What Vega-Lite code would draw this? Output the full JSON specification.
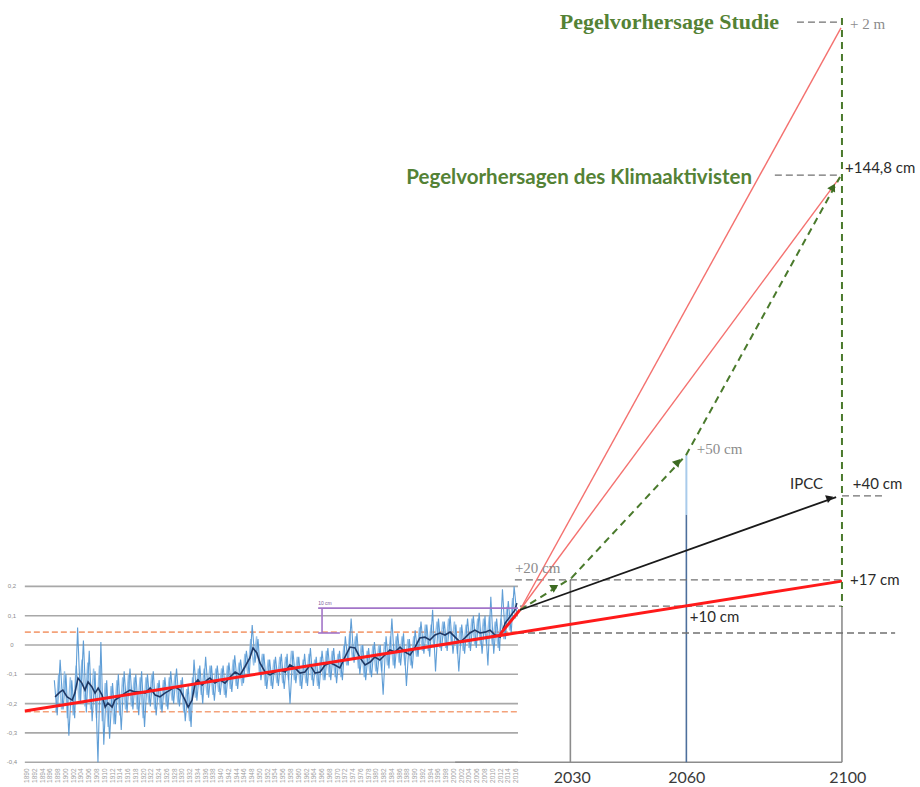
{
"$schema":"https://vega.github.io/schema/vega-lite/v6.json",
"width":920,"height":787,
"autosize":{"type":"fit","contains":"padding"},
"padding":0,
"background":"white",
"config":{"view":{"stroke":null}},
"datasets":{
"segs":[
{"g":"grid","t":1889.4,"v":0.2,"t2":2016.5,"v2":0.2},
{"g":"grid","t":1889.4,"v":0.1,"t2":2016.5,"v2":0.1},
{"g":"grid","t":1889.4,"v":0.0,"t2":2016.5,"v2":0.0},
{"g":"grid","t":1889.4,"v":-0.1,"t2":2016.5,"v2":-0.1},
{"g":"grid","t":1889.4,"v":-0.2,"t2":2016.5,"v2":-0.2},
{"g":"grid","t":1889.4,"v":-0.3,"t2":2016.5,"v2":-0.3},
{"g":"grid","t":1889.4,"v":-0.4,"t2":2016.5,"v2":-0.4},
{"g":"orange","t":1889.4,"v":0.044,"t2":2016.5,"v2":0.044},
{"g":"orange","t":1889.4,"v":-0.228,"t2":2016.5,"v2":-0.228},
{"g":"purple","t":1965.0,"v":0.126,"t2":2016.5,"v2":0.126},
{"g":"purple","t":1965.0,"v":0.041,"t2":1970.6,"v2":0.041},
{"g":"purple","t":1966.0,"v":0.041,"t2":1966.0,"v2":0.126},
{"g":"trend","t":1889.4,"v":-0.225,"t2":2100,"v2":0.218},
{"g":"trend","t":2011.9,"v":0.037,"t2":2017.0,"v2":0.12},
{"g":"gsolid","t":2030,"v":0.222,"t2":2030,"v2":-0.4},
{"g":"gsolid","t":2100,"v":0.13,"t2":2100,"v2":-0.4},
{"g":"gsolid","t":2000.3,"v":-0.4,"t2":2100,"v2":-0.4},
{"g":"lblue","t":2059.9,"v":0.648,"t2":2059.9,"v2":0.444},
{"g":"dblue","t":2059.9,"v":0.444,"t2":2059.9,"v2":-0.4},
{"g":"gdash","t":2016.25,"v":0.041,"t2":2113.7,"v2":0.041},
{"g":"gdash","t":2015.7,"v":0.222,"t2":2100,"v2":0.222},
{"g":"gdash","t":2017.0,"v":0.133,"t2":2100,"v2":0.133},
{"g":"gdash","t":2088.4,"v":2.126,"t2":2100,"v2":2.126},
{"g":"gdash","t":2082.7,"v":1.604,"t2":2100,"v2":1.604},
{"g":"gdash","t":2100,"v":0.509,"t2":2111.1,"v2":0.509},
{"g":"redthin","t":2017.02,"v":0.1195,"t2":2099.75,"v2":2.106},
{"g":"redthin","t":2017.02,"v":0.1195,"t2":2099.5,"v2":1.597},
{"g":"green","t":2017.02,"v":0.1195,"t2":2030.3,"v2":0.229},
{"g":"green","t":2030.3,"v":0.229,"t2":2059.8,"v2":0.648},
{"g":"green","t":2059.8,"v":0.648,"t2":2099.5,"v2":1.597},
{"g":"green","t":2100,"v":2.14,"t2":2100,"v2":0.13},
{"g":"black","t":2017.02,"v":0.1195,"t2":2098.5,"v2":0.505}
],
"arrows":[
{"id":"b","t":2096.9,"v":0.502},
{"id":"g1","t":2026.0,"v":0.198},
{"id":"g2","t":2057.7,"v":0.625},
{"id":"g3","t":2097.7,"v":1.563}
],
"ts":[
{"t":1897.0,"v":-0.12},{"t":1897.75,"v":-0.24},{"t":1898.5,"v":-0.05},{"t":1899.25,"v":-0.22},
{"t":1900.0,"v":-0.10},{"t":1900.75,"v":-0.31},{"t":1901.5,"v":-0.12},{"t":1902.25,"v":-0.25},
{"t":1903.0,"v":0.06},{"t":1903.75,"v":-0.20},{"t":1904.5,"v":0.015},{"t":1905.25,"v":-0.23},
{"t":1906.0,"v":-0.02},{"t":1906.75,"v":-0.26},{"t":1907.5,"v":-0.09},{"t":1908.25,"v":-0.40},
{"t":1909.0,"v":0.01},{"t":1909.75,"v":-0.34},{"t":1910.5,"v":-0.12},{"t":1911.25,"v":-0.32},
{"t":1912.0,"v":-0.13},{"t":1912.75,"v":-0.27},{"t":1913.5,"v":-0.10},{"t":1914.25,"v":-0.29},
{"t":1915.0,"v":-0.09},{"t":1915.75,"v":-0.23},{"t":1916.5,"v":-0.08},{"t":1917.25,"v":-0.22},
{"t":1918.0,"v":-0.10},{"t":1918.75,"v":-0.24},{"t":1919.5,"v":-0.09},{"t":1920.25,"v":-0.28},
{"t":1921.0,"v":-0.10},{"t":1921.75,"v":-0.21},{"t":1922.5,"v":-0.09},{"t":1923.25,"v":-0.24},
{"t":1924.0,"v":-0.12},{"t":1924.75,"v":-0.23},{"t":1925.5,"v":-0.11},{"t":1926.25,"v":-0.22},
{"t":1927.0,"v":-0.09},{"t":1927.75,"v":-0.20},{"t":1928.5,"v":-0.08},{"t":1929.25,"v":-0.21},
{"t":1930.0,"v":-0.11},{"t":1930.75,"v":-0.26},{"t":1931.5,"v":-0.14},{"t":1932.25,"v":-0.28},
{"t":1933.0,"v":-0.05},{"t":1933.75,"v":-0.19},{"t":1934.5,"v":-0.07},{"t":1935.25,"v":-0.20},
{"t":1936.0,"v":-0.04},{"t":1936.75,"v":-0.18},{"t":1937.5,"v":-0.07},{"t":1938.25,"v":-0.19},
{"t":1939.0,"v":-0.07},{"t":1939.75,"v":-0.17},{"t":1940.5,"v":-0.07},{"t":1941.25,"v":-0.18},
{"t":1942.0,"v":-0.06},{"t":1942.75,"v":-0.16},{"t":1943.5,"v":-0.035},{"t":1944.25,"v":-0.15},
{"t":1945.0,"v":-0.05},{"t":1945.75,"v":-0.13},{"t":1946.5,"v":-0.02},{"t":1947.25,"v":-0.10},
{"t":1948.0,"v":0.068},{"t":1948.75,"v":-0.06},{"t":1949.5,"v":0.02},{"t":1950.25,"v":-0.12},
{"t":1951.0,"v":-0.03},{"t":1951.75,"v":-0.15},{"t":1952.5,"v":-0.05},{"t":1953.25,"v":-0.15},
{"t":1954.0,"v":-0.04},{"t":1954.75,"v":-0.14},{"t":1955.5,"v":-0.03},{"t":1956.25,"v":-0.15},
{"t":1957.0,"v":-0.03},{"t":1957.75,"v":-0.20},{"t":1958.5,"v":-0.02},{"t":1959.25,"v":-0.13},
{"t":1960.0,"v":-0.04},{"t":1960.75,"v":-0.15},{"t":1961.5,"v":-0.03},{"t":1962.25,"v":-0.14},
{"t":1963.0,"v":-0.01},{"t":1963.75,"v":-0.14},{"t":1964.5,"v":-0.04},{"t":1965.25,"v":-0.15},
{"t":1966.0,"v":-0.02},{"t":1966.75,"v":-0.12},{"t":1967.5,"v":-0.01},{"t":1968.25,"v":-0.12},
{"t":1969.0,"v":-0.01},{"t":1969.75,"v":-0.13},{"t":1970.5,"v":-0.02},{"t":1971.25,"v":-0.12},
{"t":1972.0,"v":0.03},{"t":1972.75,"v":-0.07},{"t":1973.5,"v":0.09},{"t":1974.25,"v":-0.06},
{"t":1975.0,"v":0.04},{"t":1975.75,"v":-0.10},{"t":1976.5,"v":0.00},{"t":1977.25,"v":-0.12},
{"t":1978.0,"v":-0.01},{"t":1978.75,"v":-0.11},{"t":1979.5,"v":0.01},{"t":1980.25,"v":-0.10},
{"t":1981.0,"v":0.00},{"t":1981.75,"v":-0.17},{"t":1982.5,"v":0.03},{"t":1983.25,"v":-0.08},
{"t":1984.0,"v":0.09},{"t":1984.75,"v":-0.08},{"t":1985.5,"v":0.04},{"t":1986.25,"v":-0.07},
{"t":1987.0,"v":0.04},{"t":1987.75,"v":-0.14},{"t":1988.5,"v":0.02},{"t":1989.25,"v":-0.08},
{"t":1990.0,"v":0.05},{"t":1990.75,"v":-0.04},{"t":1991.5,"v":0.08},{"t":1992.25,"v":-0.03},
{"t":1993.0,"v":0.07},{"t":1993.75,"v":-0.04},{"t":1994.5,"v":0.12},{"t":1995.25,"v":-0.09},
{"t":1996.0,"v":0.09},{"t":1996.75,"v":-0.02},{"t":1997.5,"v":0.08},{"t":1998.25,"v":-0.02},
{"t":1999.0,"v":0.10},{"t":1999.75,"v":-0.03},{"t":2000.5,"v":0.07},{"t":2001.25,"v":-0.09},
{"t":2002.0,"v":0.07},{"t":2002.75,"v":-0.03},{"t":2003.5,"v":0.09},{"t":2004.25,"v":-0.02},
{"t":2005.0,"v":0.10},{"t":2005.75,"v":-0.01},{"t":2006.5,"v":0.11},{"t":2007.25,"v":-0.03},
{"t":2008.0,"v":0.10},{"t":2008.75,"v":-0.07},{"t":2009.5,"v":0.165},{"t":2010.25,"v":-0.03},
{"t":2011.0,"v":0.09},{"t":2011.75,"v":-0.02},{"t":2012.5,"v":0.19},{"t":2013.25,"v":0.02},
{"t":2014.0,"v":0.15},{"t":2014.75,"v":0.04},{"t":2015.5,"v":0.20},{"t":2016.25,"v":0.10}
],
"ts2":[
{"t":1897.375,"v":-0.23},{"t":1898.125,"v":-0.10},{"t":1898.875,"v":-0.22},{"t":1899.625,"v":-0.09},
{"t":1900.375,"v":-0.25},{"t":1901.125,"v":-0.11},{"t":1901.875,"v":-0.24},{"t":1902.625,"v":-0.07},
{"t":1903.375,"v":-0.19},{"t":1904.125,"v":-0.05},{"t":1904.875,"v":-0.21},{"t":1905.625,"v":-0.06},
{"t":1906.375,"v":-0.22},{"t":1907.125,"v":-0.08},{"t":1907.875,"v":-0.25},{"t":1908.625,"v":-0.07},
{"t":1909.375,"v":-0.26},{"t":1910.125,"v":-0.13},{"t":1910.875,"v":-0.28},{"t":1911.625,"v":-0.14},
{"t":1912.375,"v":-0.27},{"t":1913.125,"v":-0.12},{"t":1913.875,"v":-0.24},{"t":1914.625,"v":-0.11},
{"t":1915.375,"v":-0.22},{"t":1916.125,"v":-0.10},{"t":1916.875,"v":-0.21},{"t":1917.625,"v":-0.11},
{"t":1918.375,"v":-0.22},{"t":1919.125,"v":-0.11},{"t":1919.875,"v":-0.25},{"t":1920.625,"v":-0.11},
{"t":1921.375,"v":-0.20},{"t":1922.125,"v":-0.10},{"t":1922.875,"v":-0.22},{"t":1923.625,"v":-0.13},
{"t":1924.375,"v":-0.22},{"t":1925.125,"v":-0.12},{"t":1925.875,"v":-0.21},{"t":1926.625,"v":-0.11},
{"t":1927.375,"v":-0.19},{"t":1928.125,"v":-0.10},{"t":1928.875,"v":-0.20},{"t":1929.625,"v":-0.12},
{"t":1930.375,"v":-0.23},{"t":1931.125,"v":-0.15},{"t":1931.875,"v":-0.26},{"t":1932.625,"v":-0.11},
{"t":1933.375,"v":-0.18},{"t":1934.125,"v":-0.08},{"t":1934.875,"v":-0.17},{"t":1935.625,"v":-0.08},
{"t":1936.375,"v":-0.17},{"t":1937.125,"v":-0.07},{"t":1937.875,"v":-0.17},{"t":1938.625,"v":-0.08},
{"t":1939.375,"v":-0.16},{"t":1940.125,"v":-0.08},{"t":1940.875,"v":-0.17},{"t":1941.625,"v":-0.07},
{"t":1942.375,"v":-0.15},{"t":1943.125,"v":-0.05},{"t":1943.875,"v":-0.14},{"t":1944.625,"v":-0.06},
{"t":1945.375,"v":-0.14},{"t":1946.125,"v":-0.03},{"t":1946.875,"v":-0.10},{"t":1947.625,"v":0.02},
{"t":1948.375,"v":-0.07},{"t":1949.125,"v":0.03},{"t":1949.875,"v":-0.10},{"t":1950.625,"v":-0.03},
{"t":1951.375,"v":-0.14},{"t":1952.125,"v":-0.05},{"t":1952.875,"v":-0.14},{"t":1953.625,"v":-0.05},
{"t":1954.375,"v":-0.13},{"t":1955.125,"v":-0.04},{"t":1955.875,"v":-0.13},{"t":1956.625,"v":-0.04},
{"t":1957.375,"v":-0.12},{"t":1958.125,"v":-0.02},{"t":1958.875,"v":-0.12},{"t":1959.625,"v":-0.04},
{"t":1960.375,"v":-0.14},{"t":1961.125,"v":-0.05},{"t":1961.875,"v":-0.13},{"t":1962.625,"v":-0.03},
{"t":1963.375,"v":-0.12},{"t":1964.125,"v":-0.05},{"t":1964.875,"v":-0.14},{"t":1965.625,"v":-0.04},
{"t":1966.375,"v":-0.12},{"t":1967.125,"v":-0.02},{"t":1967.875,"v":-0.11},{"t":1968.625,"v":-0.02},
{"t":1969.375,"v":-0.11},{"t":1970.125,"v":-0.03},{"t":1970.875,"v":-0.11},{"t":1971.625,"v":0.00},
{"t":1972.375,"v":-0.07},{"t":1973.125,"v":0.04},{"t":1973.875,"v":-0.05},{"t":1974.625,"v":0.03},
{"t":1975.375,"v":-0.08},{"t":1976.125,"v":0.00},{"t":1976.875,"v":-0.11},{"t":1977.625,"v":-0.02},
{"t":1978.375,"v":-0.10},{"t":1979.125,"v":0.00},{"t":1979.875,"v":-0.09},{"t":1980.625,"v":0.00},
{"t":1981.375,"v":-0.09},{"t":1982.125,"v":0.01},{"t":1982.875,"v":-0.07},{"t":1983.625,"v":0.03},
{"t":1984.375,"v":-0.07},{"t":1985.125,"v":0.03},{"t":1985.875,"v":-0.06},{"t":1986.625,"v":0.03},
{"t":1987.375,"v":-0.07},{"t":1988.125,"v":0.02},{"t":1988.875,"v":-0.07},{"t":1989.625,"v":0.03},
{"t":1990.375,"v":-0.04},{"t":1991.125,"v":0.06},{"t":1991.875,"v":-0.02},{"t":1992.625,"v":0.07},
{"t":1993.375,"v":-0.02},{"t":1994.125,"v":0.07},{"t":1994.875,"v":-0.01},{"t":1995.625,"v":0.08},
{"t":1996.375,"v":-0.01},{"t":1997.125,"v":0.08},{"t":1997.875,"v":-0.01},{"t":1998.625,"v":0.09},
{"t":1999.375,"v":0.00},{"t":2000.125,"v":0.08},{"t":2000.875,"v":-0.03},{"t":2001.625,"v":0.06},
{"t":2002.375,"v":-0.02},{"t":2003.125,"v":0.07},{"t":2003.875,"v":-0.01},{"t":2004.625,"v":0.09},
{"t":2005.375,"v":0.00},{"t":2006.125,"v":0.09},{"t":2006.875,"v":0.00},{"t":2007.625,"v":0.09},
{"t":2008.375,"v":0.00},{"t":2009.125,"v":0.10},{"t":2009.875,"v":0.00},{"t":2010.625,"v":0.08},
{"t":2011.375,"v":-0.01},{"t":2012.125,"v":0.09},{"t":2012.875,"v":0.02},{"t":2013.625,"v":0.13},
{"t":2014.375,"v":0.05},{"t":2015.125,"v":0.16},{"t":2015.875,"v":0.09}
],
"sm":[
{"t":1897.2,"v":-0.177},{"t":1898.5,"v":-0.160},{"t":1899.2,"v":-0.154},{"t":1900.3,"v":-0.177},
{"t":1901.6,"v":-0.188},{"t":1902.3,"v":-0.164},{"t":1903.1,"v":-0.113},{"t":1904.1,"v":-0.130},
{"t":1904.9,"v":-0.154},{"t":1905.7,"v":-0.126},{"t":1906.7,"v":-0.143},{"t":1907.5,"v":-0.164},
{"t":1908.3,"v":-0.147},{"t":1909.3,"v":-0.171},{"t":1910.1,"v":-0.212},{"t":1910.8,"v":-0.198},
{"t":1911.9,"v":-0.212},{"t":1912.6,"v":-0.188},{"t":1913.9,"v":-0.177},{"t":1915.2,"v":-0.164},
{"t":1916.5,"v":-0.154},{"t":1917.8,"v":-0.160},{"t":1919.1,"v":-0.160},{"t":1920.4,"v":-0.164},
{"t":1921.7,"v":-0.147},{"t":1923.0,"v":-0.171},{"t":1924.2,"v":-0.177},{"t":1925.5,"v":-0.164},
{"t":1926.8,"v":-0.154},{"t":1928.1,"v":-0.143},{"t":1929.4,"v":-0.154},{"t":1930.7,"v":-0.188},
{"t":1931.5,"v":-0.212},{"t":1932.5,"v":-0.188},{"t":1933.3,"v":-0.130},{"t":1934.0,"v":-0.119},
{"t":1935.1,"v":-0.137},{"t":1936.4,"v":-0.119},{"t":1937.1,"v":-0.113},{"t":1938.4,"v":-0.130},
{"t":1939.7,"v":-0.119},{"t":1941.0,"v":-0.130},{"t":1942.3,"v":-0.109},{"t":1943.6,"v":-0.092},
{"t":1944.9,"v":-0.102},{"t":1946.1,"v":-0.075},{"t":1947.4,"v":-0.044},{"t":1948.2,"v":-0.010},
{"t":1949.2,"v":-0.027},{"t":1950.0,"v":-0.061},{"t":1951.3,"v":-0.092},{"t":1952.6,"v":-0.102},
{"t":1953.9,"v":-0.092},{"t":1955.2,"v":-0.085},{"t":1956.5,"v":-0.092},{"t":1957.7,"v":-0.068},
{"t":1959.0,"v":-0.078},{"t":1960.3,"v":-0.096},{"t":1961.6,"v":-0.092},{"t":1962.9,"v":-0.068},
{"t":1964.2,"v":-0.096},{"t":1965.5,"v":-0.092},{"t":1966.8,"v":-0.068},{"t":1968.1,"v":-0.061},
{"t":1969.3,"v":-0.068},{"t":1970.6,"v":-0.078},{"t":1971.9,"v":-0.041},{"t":1973.2,"v":-0.007},
{"t":1974.5,"v":-0.010},{"t":1975.8,"v":-0.044},{"t":1977.1,"v":-0.068},{"t":1978.4,"v":-0.058},
{"t":1979.6,"v":-0.041},{"t":1980.9,"v":-0.051},{"t":1982.2,"v":-0.034},{"t":1983.5,"v":-0.017},
{"t":1984.8,"v":-0.024},{"t":1986.1,"v":-0.007},{"t":1987.4,"v":-0.024},{"t":1988.7,"v":-0.034},
{"t":1990.0,"v":-0.007},{"t":1991.2,"v":0.024},{"t":1992.5,"v":0.027},{"t":1993.8,"v":0.017},
{"t":1995.1,"v":0.034},{"t":1996.4,"v":0.041},{"t":1997.7,"v":0.034},{"t":1999.0,"v":0.044},
{"t":2000.3,"v":0.027},{"t":2001.6,"v":0.010},{"t":2002.8,"v":0.024},{"t":2004.1,"v":0.041},
{"t":2005.4,"v":0.051},{"t":2006.7,"v":0.041},{"t":2008.0,"v":0.044},{"t":2009.3,"v":0.051},
{"t":2010.6,"v":0.034},{"t":2011.9,"v":0.027},{"t":2013.2,"v":0.075},{"t":2014.4,"v":0.096},
{"t":2015.7,"v":0.119},{"t":2016.2,"v":0.143}
],
"labels":[
{"s":"t1","t":2083.8,"v":2.126,"label":"Pegelvorhersage Studie"},
{"s":"t2","t":2076.8,"v":1.594,"label":"Pegelvorhersagen des Klimaaktivisten"},
{"s":"serif","t":2102.1,"v":2.119,"label":"+ 2 m"},
{"s":"sans","t":2100.8,"v":1.628,"label":"+144,8 cm"},
{"s":"serif","t":2062.6,"v":0.669,"label":"+50 cm"},
{"s":"sans","t":2086.6,"v":0.549,"label":"IPCC"},
{"s":"sans","t":2102.8,"v":0.549,"label":"+40 cm"},
{"s":"serif","t":2015.7,"v":0.263,"label":"+20 cm"},
{"s":"sans","t":2102.1,"v":0.222,"label":"+17 cm"},
{"s":"sans","t":2060.8,"v":0.0956,"label":"+10 cm"},
{"s":"year","t":2030.5,"v":-0.454,"label":"2030"},
{"s":"year","t":2060,"v":-0.454,"label":"2060"},
{"s":"year","t":2101.5,"v":-0.454,"label":"2100"},
{"s":"tiny","t":1965.0,"v":0.143,"label":"10 cm"},
{"s":"ytick","t":1886.1,"v":0.2,"label":"0,2"},
{"s":"ytick","t":1886.1,"v":0.1,"label":"0,1"},
{"s":"ytick","t":1886.1,"v":0.0,"label":"0"},
{"s":"ytick","t":1886.1,"v":-0.1,"label":"-0,1"},
{"s":"ytick","t":1886.1,"v":-0.2,"label":"-0,2"},
{"s":"ytick","t":1886.1,"v":-0.3,"label":"-0,3"},
{"s":"ytick","t":1886.1,"v":-0.4,"label":"-0,4"}
],
"xticks":[
{"t":1890,"v":-0.446,"label":"1890"},{"t":1892,"v":-0.446,"label":"1892"},{"t":1894,"v":-0.446,"label":"1894"},{"t":1896,"v":-0.446,"label":"1896"},
{"t":1898,"v":-0.446,"label":"1898"},{"t":1900,"v":-0.446,"label":"1900"},{"t":1902,"v":-0.446,"label":"1902"},{"t":1904,"v":-0.446,"label":"1904"},
{"t":1906,"v":-0.446,"label":"1906"},{"t":1908,"v":-0.446,"label":"1908"},{"t":1910,"v":-0.446,"label":"1910"},{"t":1912,"v":-0.446,"label":"1912"},
{"t":1914,"v":-0.446,"label":"1914"},{"t":1916,"v":-0.446,"label":"1916"},{"t":1918,"v":-0.446,"label":"1918"},{"t":1920,"v":-0.446,"label":"1920"},
{"t":1922,"v":-0.446,"label":"1922"},{"t":1924,"v":-0.446,"label":"1924"},{"t":1926,"v":-0.446,"label":"1926"},{"t":1928,"v":-0.446,"label":"1928"},
{"t":1930,"v":-0.446,"label":"1930"},{"t":1932,"v":-0.446,"label":"1932"},{"t":1934,"v":-0.446,"label":"1934"},{"t":1936,"v":-0.446,"label":"1936"},
{"t":1938,"v":-0.446,"label":"1938"},{"t":1940,"v":-0.446,"label":"1940"},{"t":1942,"v":-0.446,"label":"1942"},{"t":1944,"v":-0.446,"label":"1944"},
{"t":1946,"v":-0.446,"label":"1946"},{"t":1948,"v":-0.446,"label":"1948"},{"t":1950,"v":-0.446,"label":"1950"},{"t":1952,"v":-0.446,"label":"1952"},
{"t":1954,"v":-0.446,"label":"1954"},{"t":1956,"v":-0.446,"label":"1956"},{"t":1958,"v":-0.446,"label":"1958"},{"t":1960,"v":-0.446,"label":"1960"},
{"t":1962,"v":-0.446,"label":"1962"},{"t":1964,"v":-0.446,"label":"1964"},{"t":1966,"v":-0.446,"label":"1966"},{"t":1968,"v":-0.446,"label":"1968"},
{"t":1970,"v":-0.446,"label":"1970"},{"t":1972,"v":-0.446,"label":"1972"},{"t":1974,"v":-0.446,"label":"1974"},{"t":1976,"v":-0.446,"label":"1976"},
{"t":1978,"v":-0.446,"label":"1978"},{"t":1980,"v":-0.446,"label":"1980"},{"t":1982,"v":-0.446,"label":"1982"},{"t":1984,"v":-0.446,"label":"1984"},
{"t":1986,"v":-0.446,"label":"1986"},{"t":1988,"v":-0.446,"label":"1988"},{"t":1990,"v":-0.446,"label":"1990"},{"t":1992,"v":-0.446,"label":"1992"},
{"t":1994,"v":-0.446,"label":"1994"},{"t":1996,"v":-0.446,"label":"1996"},{"t":1998,"v":-0.446,"label":"1998"},{"t":2000,"v":-0.446,"label":"2000"},
{"t":2002,"v":-0.446,"label":"2002"},{"t":2004,"v":-0.446,"label":"2004"},{"t":2006,"v":-0.446,"label":"2006"},{"t":2008,"v":-0.446,"label":"2008"},
{"t":2010,"v":-0.446,"label":"2010"},{"t":2012,"v":-0.446,"label":"2012"},{"t":2014,"v":-0.446,"label":"2014"},{"t":2016,"v":-0.446,"label":"2016"}
]
},
"encoding":{
"x":{"field":"t","type":"quantitative","scale":{"domain":[1883,2120.113],"nice":false,"zero":false},"axis":null},
"y":{"field":"v","type":"quantitative","scale":{"domain":[-0.4846,2.2014],"nice":false,"zero":false},"axis":null}
},
"layer":[
{"data":{"name":"segs"},"transform":[{"filter":"datum.g==='grid'"}],"mark":{"type":"rule","color":"#a8a8a8","strokeWidth":1.6},"encoding":{"x2":{"field":"t2"},"y2":{"field":"v2"}}},
{"data":{"name":"segs"},"transform":[{"filter":"datum.g==='orange'"}],"mark":{"type":"rule","color":"#f4a27a","strokeWidth":1.6,"strokeDash":[6,3]},"encoding":{"x2":{"field":"t2"},"y2":{"field":"v2"}}},
{"data":{"name":"xticks"},"mark":{"type":"text","angle":270,"fontSize":6.5,"color":"#a0a0a0","align":"center","baseline":"middle","font":"Liberation Sans"},"encoding":{"text":{"field":"label"}}},
{"data":{"name":"ts2"},"mark":{"type":"line","color":"#8dbbe6","strokeWidth":1.4,"opacity":0.9},"encoding":{}},
{"data":{"name":"ts"},"mark":{"type":"line","color":"#4f93d2","strokeWidth":1.1,"opacity":0.9},"encoding":{}},
{"data":{"name":"sm"},"mark":{"type":"line","color":"#1f3864","strokeWidth":1.6},"encoding":{}},
{"data":{"name":"segs"},"transform":[{"filter":"datum.g==='purple'"}],"mark":{"type":"rule","color":"#a274c8","strokeWidth":1.6},"encoding":{"x2":{"field":"t2"},"y2":{"field":"v2"}}},
{"data":{"name":"segs"},"transform":[{"filter":"datum.g==='gsolid'"}],"mark":{"type":"rule","color":"#8c8c8c","strokeWidth":1.6},"encoding":{"x2":{"field":"t2"},"y2":{"field":"v2"}}},
{"data":{"name":"segs"},"transform":[{"filter":"datum.g==='lblue'"}],"mark":{"type":"rule","color":"#a9cbeb","strokeWidth":2},"encoding":{"x2":{"field":"t2"},"y2":{"field":"v2"}}},
{"data":{"name":"segs"},"transform":[{"filter":"datum.g==='dblue'"}],"mark":{"type":"rule","color":"#4d6f9c","strokeWidth":1.6},"encoding":{"x2":{"field":"t2"},"y2":{"field":"v2"}}},
{"data":{"name":"segs"},"transform":[{"filter":"datum.g==='gdash'"}],"mark":{"type":"rule","color":"#707070","strokeWidth":1.3,"strokeDash":[7,4]},"encoding":{"x2":{"field":"t2"},"y2":{"field":"v2"}}},
{"data":{"name":"segs"},"transform":[{"filter":"datum.g==='trend'"}],"mark":{"type":"rule","color":"#ff1a1a","strokeWidth":3},"encoding":{"x2":{"field":"t2"},"y2":{"field":"v2"}}},
{"data":{"name":"segs"},"transform":[{"filter":"datum.g==='redthin'"}],"mark":{"type":"rule","color":"#f4716f","strokeWidth":1.4},"encoding":{"x2":{"field":"t2"},"y2":{"field":"v2"}}},
{"data":{"name":"segs"},"transform":[{"filter":"datum.g==='green'"}],"mark":{"type":"rule","color":"#4a7a2c","strokeWidth":2,"strokeDash":[7,5]},"encoding":{"x2":{"field":"t2"},"y2":{"field":"v2"}}},
{"data":{"name":"segs"},"transform":[{"filter":"datum.g==='black'"}],"mark":{"type":"rule","color":"#1a1a1a","strokeWidth":1.8},"encoding":{"x2":{"field":"t2"},"y2":{"field":"v2"}}},
{"data":{"name":"arrows"},"transform":[{"filter":"datum.id==='b'"}],"mark":{"type":"point","shape":"triangle-right","filled":true,"size":70,"angle":340,"color":"#1a1a1a","opacity":1},"encoding":{}},
{"data":{"name":"arrows"},"transform":[{"filter":"datum.id==='g1'"}],"mark":{"type":"point","shape":"triangle-right","filled":true,"size":80,"angle":330,"color":"#3d6b22","opacity":1},"encoding":{}},
{"data":{"name":"arrows"},"transform":[{"filter":"datum.id==='g2'"}],"mark":{"type":"point","shape":"triangle-right","filled":true,"size":80,"angle":313,"color":"#3d6b22","opacity":1},"encoding":{}},
{"data":{"name":"arrows"},"transform":[{"filter":"datum.id==='g3'"}],"mark":{"type":"point","shape":"triangle-right","filled":true,"size":80,"angle":299,"color":"#3d6b22","opacity":1},"encoding":{}},
{"data":{"name":"labels"},"transform":[{"filter":"datum.s==='t1'"}],"mark":{"type":"text","font":"Liberation Serif","fontWeight":"bold","fontSize":22,"color":"#548235","align":"right","baseline":"middle"},"encoding":{"text":{"field":"label"}}},
{"data":{"name":"labels"},"transform":[{"filter":"datum.s==='t2'"}],"mark":{"type":"text","font":"Lato","fontWeight":"bold","fontSize":20.5,"color":"#548235","align":"right","baseline":"middle"},"encoding":{"text":{"field":"label"}}},
{"data":{"name":"labels"},"transform":[{"filter":"datum.s==='serif'"}],"mark":{"type":"text","font":"Liberation Serif","fontSize":15,"color":"#8c8c8c","align":"left","baseline":"middle"},"encoding":{"text":{"field":"label"}}},
{"data":{"name":"labels"},"transform":[{"filter":"datum.s==='sans'"}],"mark":{"type":"text","font":"Lato","fontSize":15,"color":"#2b2b2b","align":"left","baseline":"middle"},"encoding":{"text":{"field":"label"}}},
{"data":{"name":"labels"},"transform":[{"filter":"datum.s==='year'"}],"mark":{"type":"text","font":"Lato","fontSize":16,"color":"#3a3a3a","align":"center","baseline":"middle"},"encoding":{"text":{"field":"label"}}},
{"data":{"name":"labels"},"transform":[{"filter":"datum.s==='tiny'"}],"mark":{"type":"text","font":"Liberation Sans","fontSize":5,"color":"#7a5a9a","align":"left","baseline":"middle"},"encoding":{"text":{"field":"label"}}},
{"data":{"name":"labels"},"transform":[{"filter":"datum.s==='ytick'"}],"mark":{"type":"text","font":"Liberation Sans","fontSize":6,"color":"#8c8c8c","align":"center","baseline":"middle"},"encoding":{"text":{"field":"label"}}}
]
}
